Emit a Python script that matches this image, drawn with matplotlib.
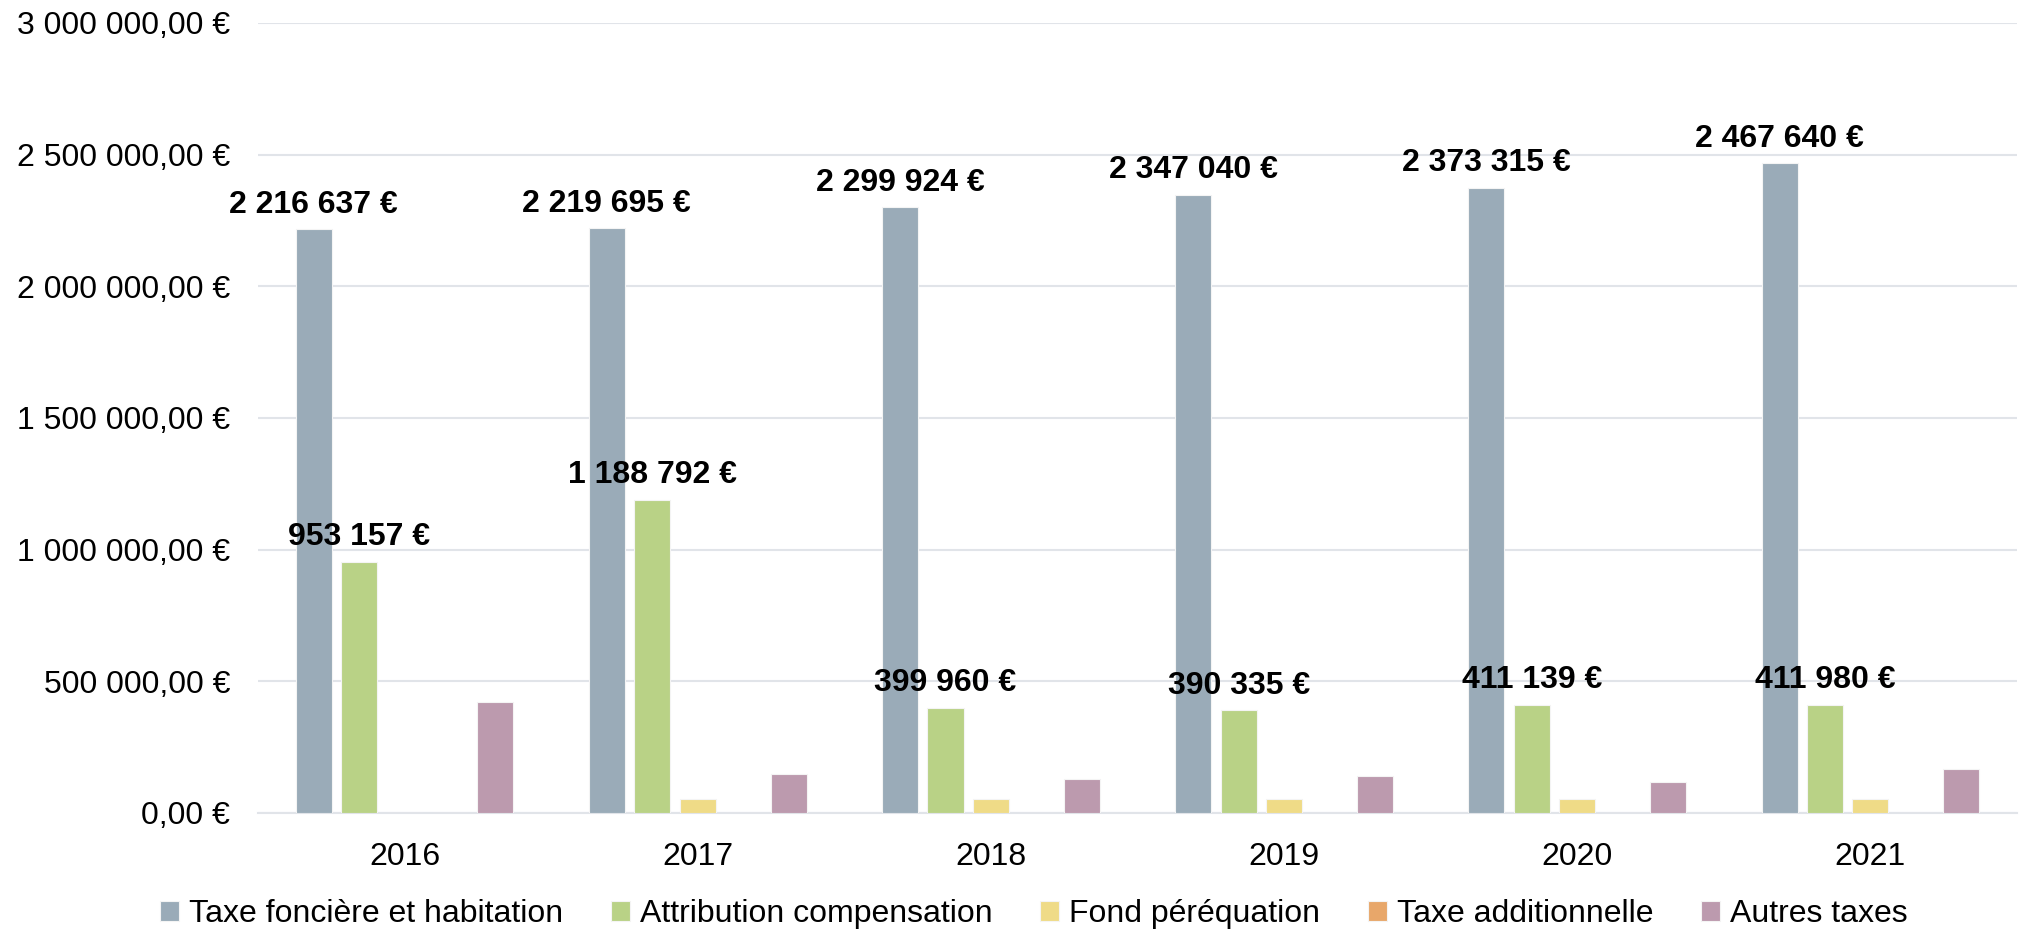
import matplotlib
matplotlib.use("Agg")
import matplotlib.pyplot as plt
import numpy as np

years = ["2016", "2017", "2018", "2019", "2020", "2021"]
series_names = ["Taxe foncière et habitation", "Attribution compensation",
                "Fond péréquation", "Taxe additionnelle", "Autres taxes"]
taxe_fonciere = [2216637, 2219695, 2299924, 2347040, 2373315, 2467640]
attribution = [953157, 1188792, 399960, 390335, 411139, 411980]
fond_perequation = [0, 53000, 53000, 53000, 53000, 54000]
taxe_additionnelle = [0, 0, 0, 0, 0, 0]
autres_taxes = [420000, 148000, 131000, 139000, 119000, 166000]
colors = ["#9AABB8", "#B9D286", "#EFDB87", "#E8A76A", "#BC9AAE"]
labelled = [True, True, False, False, False]

plt.rcParams['font.family'] = ['Liberation Sans', 'DejaVu Sans']

fig = plt.figure(figsize=(20.27, 9.30), dpi=100)
ax = fig.add_axes([258/2027, 1-813/930, (2017-258)/2027, (813-23)/930])

data = [taxe_fonciere, attribution, fond_perequation, taxe_additionnelle, autres_taxes]
x = np.arange(len(years))
width = 0.123
pitch = 0.155

def fmt_eur(v):
    return f"{int(round(v)):,}".replace(",", " ") + " €"

for i, (name, vals, c) in enumerate(zip(series_names, data, colors)):
    pos = x + (i - 2) * pitch
    ax.bar(pos, vals, width=width, color=c, label=name,
           edgecolor="#F4F4F4", linewidth=0.8, zorder=3)
    if labelled[i]:
        for p, v in zip(pos, vals):
            ax.annotate(fmt_eur(v), (p, v), xytext=(0, 12), textcoords="offset points",
                        ha="center", va="baseline", fontsize=23, fontweight="bold",
                        color="black", zorder=5)

ax.set_xlim(-0.5, len(years) - 0.5)
ax.set_ylim(0, 3000000)
yt = np.arange(0, 3000001, 500000)
ax.set_yticks(yt)
ax.set_yticklabels([f"{int(v):,}".replace(",", " ") + ",00 €" for v in yt])
ax.set_xticks(x)
ax.set_xticklabels(years)
ax.tick_params(axis="y", length=0, pad=20, labelsize=23)
ax.tick_params(axis="x", length=0, pad=21, labelsize=23)
ax.grid(axis="y", color="#E1E4E9", linewidth=1.5, zorder=0)
ax.set_axisbelow(True)
for s in ["top", "right", "left"]:
    ax.spines[s].set_visible(False)
ax.spines["bottom"].set_color("#E1E4E9")
ax.spines["bottom"].set_linewidth(1.5)

handles, labels = ax.get_legend_handles_labels()
fig.legend(handles, labels, loc="center", bbox_to_anchor=(0.51, 1 - 914/930),
           ncol=5, frameon=False, fontsize=23, handlelength=0.6, handleheight=0.6,
           handletextpad=0.3, columnspacing=1.5)

fig.savefig("out.png", dpi=100, facecolor="white")
